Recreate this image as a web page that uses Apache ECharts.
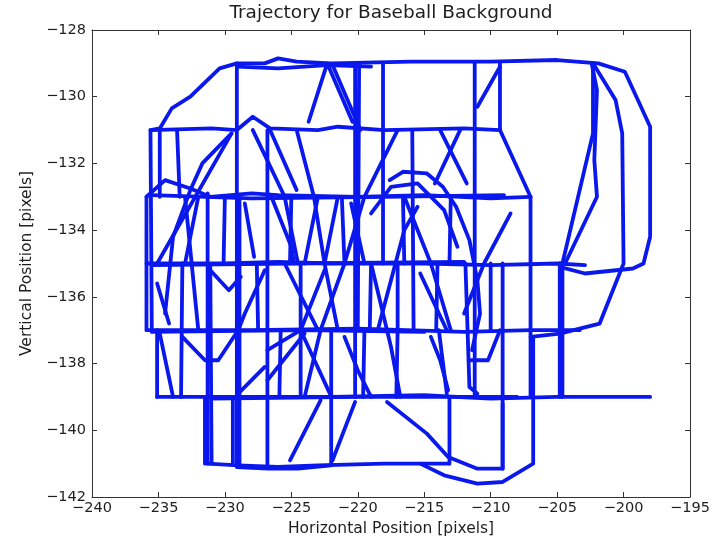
<!DOCTYPE html>
<html>
<head>
<meta charset="utf-8">
<title>Trajectory for Baseball Background</title>
<script src="https://cdn.jsdelivr.net/npm/echarts@6/dist/echarts.min.js"></script>
<style>
  html, body { margin: 0; padding: 0; background: #ffffff; }
  #chart { width: 719px; height: 536px; }
</style>
</head>
<body>
<div id="chart"></div>
<script>
// Axis ranges and ticks (pixels of the tracked frame)
const xRange = { min: -240, max: -195, step: 5 };
const yRange = { min: -142, max: -128, step: 2 };

// Tracked trajectory, split into strokes of [horizontal, vertical] positions
const outerSweep = [[-235.5,-137.0],[-235.6,-131.0],[-234.9,-130.95],[-234.0,-130.35],[-232.6,-130.0],[-230.4,-129.15],[-229.1,-129.0],[-227.0,-129.0],[-226.0,-128.85],[-224.6,-128.95],[-222.0,-129.0],[-216.0,-128.95],[-210.0,-128.95],[-205.0,-128.9],[-201.9,-129.0],[-199.9,-129.25],[-198.0,-130.9],[-198.0,-134.2],[-198.5,-135.0],[-199.3,-135.15],[-202.9,-135.3],[-204.8,-135.1]];
const topReturn = [[-229.1,-129.1],[-226.0,-129.15],[-222.3,-129.05],[-219.0,-129.1]];
const innerLoop = [[-202.3,-129.0],[-200.6,-130.1],[-200.1,-131.1],[-200.0,-135.0],[-200.3,-135.3],[-201.8,-136.8],[-204.8,-137.1],[-207.0,-137.2]];
const rightDropA = [[-202.4,-129.0],[-202.0,-129.8],[-202.2,-131.9],[-202.0,-133.0],[-204.4,-135.0],[-204.8,-135.0]];
const rightDropB = [[-202.3,-129.05],[-202.3,-131.1],[-204.6,-135.0]];

const row131 = [[-235.6,-131.0],[-231.0,-130.95],[-229.1,-131.0],[-227.9,-130.6],[-226.6,-130.95],[-223.0,-131.0],[-221.5,-130.9],[-218.0,-131.0],[-212.0,-130.95],[-209.3,-131.0]];
const row133 = [[-235.9,-133.0],[-234.5,-132.5],[-232.6,-132.75],[-231.1,-133.0],[-228.0,-132.9],[-226.0,-132.95],[-220.0,-133.0],[-215.0,-132.95],[-210.0,-133.05],[-207.0,-133.0]];
const row133b = [[-235.5,-132.95],[-228.0,-133.05],[-218.0,-133.0],[-209.0,-132.95]];
const row135 = [[-235.9,-135.0],[-230.0,-135.0],[-226.0,-134.95],[-222.0,-135.0],[-215.0,-135.0],[-210.0,-135.05],[-205.0,-135.0],[-202.9,-135.05]];
const row135b = [[-235.5,-135.05],[-225.0,-135.0],[-212.0,-134.95]];
const row137 = [[-235.8,-137.0],[-228.0,-137.0],[-220.0,-136.95],[-212.0,-137.05],[-207.0,-137.0],[-203.3,-137.0]];
const row137b = [[-235.5,-137.05],[-224.0,-137.0],[-215.0,-137.05]];
const row139 = [[-235.1,-139.0],[-228.0,-139.0],[-222.0,-139.0],[-215.0,-138.95],[-210.0,-139.05],[-205.0,-139.0],[-198.0,-139.0]];
const row139b = [[-231.0,-139.05],[-220.0,-139.0],[-208.0,-139.0]];
const row141 = [[-231.3,-141.0],[-229.0,-141.05],[-226.0,-141.1],[-223.0,-141.05],[-218.0,-141.0],[-215.3,-141.0],[-213.2,-141.0]];
const row141b = [[-229.1,-141.1],[-226.8,-141.15],[-224.5,-141.15],[-222.0,-141.05]];

const lowerSweep = [[-215.3,-141.0],[-213.5,-141.35],[-211.0,-141.6],[-209.1,-141.55],[-206.8,-141.0],[-206.8,-137.2]];
const lowerDiag = [[-217.8,-139.15],[-214.8,-140.1],[-213.2,-140.8],[-211.0,-141.15],[-209.1,-141.15],[-209.1,-139.2]];

const verticals = [
  [[-235.9,-133.0],[-235.9,-137.0]],
  [[-235.1,-137.0],[-235.1,-139.0]],
  [[-234.9,-131.05],[-234.9,-133.0]],
  [[-233.2,-135.0],[-233.3,-139.0]],
  [[-231.3,-132.9],[-231.3,-141.0]],
  [[-231.1,-135.1],[-231.0,-141.0]],
  [[-229.1,-129.0],[-229.1,-141.05]],
  [[-228.9,-133.0],[-228.9,-141.0]],
  [[-226.8,-131.0],[-226.8,-141.1]],
  [[-224.3,-135.0],[-224.3,-139.0]],
  [[-222.0,-137.0],[-222.0,-141.0]],
  [[-220.2,-129.0],[-220.2,-139.0]],
  [[-219.9,-129.0],[-220.0,-137.0]],
  [[-218.1,-129.0],[-218.1,-135.0]],
  [[-215.9,-131.0],[-215.8,-137.0]],
  [[-213.1,-139.0],[-213.1,-141.0]],
  [[-211.2,-129.0],[-211.2,-139.0]],
  [[-209.3,-129.0],[-209.3,-131.0]],
  [[-209.1,-135.0],[-209.1,-141.15]],
  [[-207.0,-133.0],[-207.0,-139.0]],
  [[-204.8,-135.0],[-204.8,-139.0]],
  [[-204.6,-135.1],[-204.6,-139.0]],
  [[-233.6,-131.0],[-233.4,-133.0]],
  [[-230.0,-133.0],[-230.1,-135.0]],
  [[-225.0,-133.0],[-225.1,-135.0]],
  [[-221.2,-133.0],[-221.0,-135.0]],
  [[-216.6,-133.0],[-216.5,-135.0]],
  [[-213.0,-133.0],[-213.1,-135.0]],
  [[-227.6,-135.0],[-227.5,-137.0]],
  [[-219.0,-135.0],[-219.1,-137.0]],
  [[-217.0,-135.0],[-217.0,-137.0]],
  [[-214.0,-135.0],[-214.1,-137.0]],
  [[-210.0,-135.0],[-210.0,-137.0]],
  [[-225.8,-137.0],[-225.9,-139.0]],
  [[-219.5,-137.0],[-219.6,-139.0]],
  [[-217.0,-137.0],[-217.1,-139.0]],
  [[-229.4,-139.0],[-229.4,-141.0]],
  [[-231.5,-139.0],[-231.5,-141.0]]
];

const diagonals = [
  [[-223.7,-130.75],[-222.3,-129.0],[-220.4,-130.75]],
  [[-221.9,-129.05],[-219.8,-131.0]],
  [[-209.3,-129.1],[-211.0,-130.3]],
  [[-209.3,-131.0],[-207.0,-133.0]],
  [[-229.5,-131.1],[-231.7,-132.0],[-232.6,-132.8],[-233.9,-134.2],[-234.5,-136.5]],
  [[-229.5,-131.1],[-235.1,-135.0]],
  [[-227.9,-131.0],[-225.5,-133.0],[-224.5,-135.0]],
  [[-224.6,-131.0],[-223.3,-133.0],[-222.5,-135.0],[-221.5,-137.0]],
  [[-217.0,-131.0],[-219.5,-133.0],[-221.0,-135.0],[-222.8,-137.0],[-224.0,-139.0]],
  [[-217.6,-132.5],[-216.6,-132.25],[-214.8,-132.3],[-213.6,-132.7],[-212.6,-133.3],[-211.6,-134.3],[-211.0,-135.5],[-210.8,-136.5],[-211.4,-137.6]],
  [[-219.0,-133.5],[-217.5,-132.7],[-215.5,-132.6],[-213.5,-133.4],[-212.5,-134.5]],
  [[-213.8,-131.0],[-211.8,-132.6]],
  [[-212.3,-131.0],[-214.2,-132.6]],
  [[-226.6,-131.0],[-224.6,-132.8]],
  [[-226.5,-133.0],[-225.0,-134.5],[-224.8,-135.0]],
  [[-223.0,-133.0],[-224.0,-135.0]],
  [[-221.5,-133.0],[-222.5,-135.0]],
  [[-220.5,-133.2],[-219.5,-135.0]],
  [[-226.8,-137.6],[-224.3,-137.0],[-222.5,-135.2]],
  [[-226.8,-138.5],[-224.0,-137.1]],
  [[-224.3,-137.0],[-222.1,-138.9]],
  [[-222.8,-139.1],[-225.1,-140.9]],
  [[-220.2,-139.15],[-221.9,-140.9]],
  [[-215.3,-135.3],[-213.3,-137.0]],
  [[-213.9,-137.0],[-213.3,-138.9]],
  [[-214.5,-137.2],[-213.8,-137.9],[-213.2,-138.8]],
  [[-211.9,-135.0],[-211.6,-138.7],[-211.0,-138.9]],
  [[-211.5,-137.9],[-210.2,-137.9],[-209.3,-137.0]],
  [[-235.1,-135.6],[-234.2,-136.8]],
  [[-234.9,-137.1],[-233.9,-139.0]],
  [[-233.2,-137.2],[-231.5,-137.9],[-230.5,-137.9],[-229.0,-137.0]],
  [[-231.1,-135.2],[-229.7,-135.8],[-228.8,-135.4]],
  [[-229.0,-138.9],[-227.0,-138.1]],
  [[-216.5,-133.0],[-214.5,-135.0],[-213.0,-137.0]],
  [[-208.5,-133.5],[-210.5,-135.0],[-212.0,-136.5]],
  [[-232.0,-133.0],[-233.0,-135.0]],
  [[-228.5,-133.2],[-227.8,-134.8]],
  [[-233.0,-133.0],[-232.0,-137.0]],
  [[-225.5,-135.0],[-223.0,-137.0]],
  [[-219.0,-135.0],[-217.5,-137.5],[-216.8,-139.0]],
  [[-218.5,-137.0],[-217.5,-135.5],[-216.5,-134.0],[-215.5,-133.3]],
  [[-227.0,-135.2],[-228.5,-136.5],[-229.0,-137.0]],
  [[-221.0,-137.2],[-220.0,-138.2],[-219.0,-139.0]]
];

const strokes = [
  outerSweep, topReturn, innerLoop, rightDropA, rightDropB,
  row131, row133, row133b, row135, row135b, row137, row137b,
  row139, row139b, row141, row141b, lowerSweep, lowerDiag
].concat(verticals, diagonals);

const TRACK_COLOR = '#0a18ee';
const TEXT = '#1e1e1e';
const FONT = 'DejaVu Sans';
const minus = v => String(v).replace('-', '\u2212');

const chart = echarts.init(document.getElementById('chart'), null, { renderer: 'canvas' });

const axisCommon = {
  type: 'value',
  splitLine: { show: false },
  axisLine: { show: true, onZero: false, lineStyle: { color: '#333333', width: 1 } },
  axisTick: { show: true, inside: true, length: 5, lineStyle: { color: '#333333', width: 1 } }
};

chart.setOption({
  animation: false,
  backgroundColor: '#ffffff',
  grid: { left: 92, top: 30, width: 598, height: 467, outerBoundsMode: 'none', containLabel: false },
  graphic: [{
    type: 'text',
    x: 391, y: 4,
    style: {
      text: 'Trajectory for Baseball Background',
      align: 'center', verticalAlign: 'top',
      fontFamily: FONT, fontSize: 18.5, fill: TEXT
    }
  }],
  xAxis: [
    Object.assign({}, axisCommon, {
      position: 'bottom', min: xRange.min, max: xRange.max, interval: xRange.step,
      name: 'Horizontal Position [pixels]', nameLocation: 'middle', nameGap: 18,
      nameTextStyle: { fontFamily: FONT, fontSize: 15.5, color: TEXT },
      axisLabel: { formatter: minus, fontFamily: FONT, fontSize: 14.5, color: TEXT, margin: 4 }
    }),
    Object.assign({}, axisCommon, {
      position: 'top', min: xRange.min, max: xRange.max, interval: xRange.step,
      axisLabel: { show: false }
    })
  ],
  yAxis: [
    Object.assign({}, axisCommon, {
      position: 'left', min: yRange.min, max: yRange.max, interval: yRange.step,
      name: 'Vertical Position [pixels]', nameLocation: 'middle', nameGap: 51,
      nameTextStyle: { fontFamily: FONT, fontSize: 15.5, color: TEXT },
      axisLabel: { formatter: minus, fontFamily: FONT, fontSize: 14.5, color: TEXT, margin: 6 }
    }),
    Object.assign({}, axisCommon, {
      position: 'right', min: yRange.min, max: yRange.max, interval: yRange.step,
      axisLabel: { show: false }
    })
  ],
  series: strokes.map(points => ({
    type: 'line',
    xAxisIndex: 0,
    yAxisIndex: 0,
    data: points,
    showSymbol: false,
    symbol: 'none',
    silent: true,
    clip: true,
    lineStyle: { color: TRACK_COLOR, width: 3.8, cap: 'round', join: 'round' }
  }))
});
</script>
</body>
</html>
